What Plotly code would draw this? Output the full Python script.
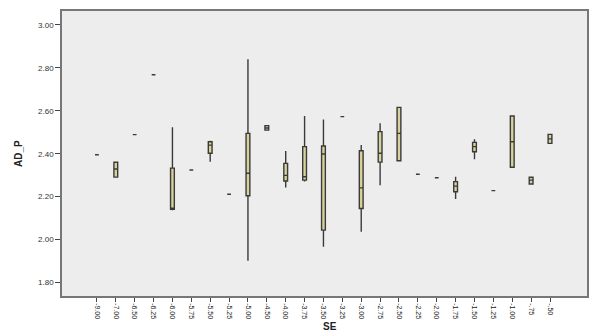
import plotly.graph_objects as go

categories = ["-9.00", "-7.00", "-6.50", "-6.25", "-6.00", "-5.75", "-5.50", "-5.25",
              "-5.00", "-4.50", "-4.00", "-3.75", "-3.50", "-3.25", "-3.00", "-2.75",
              "-2.50", "-2.25", "-2.00", "-1.75", "-1.50", "-1.25", "-1.00", "-.75", "-.50"]
lower_whisker = [2.395, 2.291, 2.489, 2.768, 2.136, 2.324, 2.363, 2.211,
                 1.901, 2.510, 2.243, 2.270, 1.966, 2.573, 2.036, 2.253,
                 2.367, 2.304, 2.288, 2.189, 2.374, 2.228, 2.337, 2.259, 2.448]
q1_values = [2.395, 2.291, 2.489, 2.768, 2.141, 2.324, 2.402, 2.211,
             2.204, 2.510, 2.273, 2.277, 2.044, 2.573, 2.145, 2.361,
             2.367, 2.304, 2.288, 2.223, 2.409, 2.228, 2.337, 2.259, 2.448]
median_values = [2.395, 2.329, 2.489, 2.768, 2.141, 2.324, 2.440, 2.211,
                 2.309, 2.520, 2.299, 2.293, 2.399, 2.573, 2.241, 2.402,
                 2.495, 2.304, 2.288, 2.249, 2.433, 2.228, 2.456, 2.277, 2.469]
q3_values = [2.395, 2.360, 2.489, 2.768, 2.333, 2.324, 2.456, 2.211,
             2.495, 2.531, 2.355, 2.433, 2.436, 2.573, 2.414, 2.503,
             2.616, 2.304, 2.288, 2.270, 2.453, 2.228, 2.576, 2.290, 2.490]
upper_whisker = [2.395, 2.360, 2.489, 2.768, 2.523, 2.324, 2.460, 2.211,
                 2.840, 2.531, 2.413, 2.576, 2.560, 2.573, 2.441, 2.542,
                 2.616, 2.304, 2.288, 2.293, 2.467, 2.228, 2.576, 2.290, 2.490]
y_ticks = [1.80, 2.00, 2.20, 2.40, 2.60, 2.80, 3.00]

fig = go.Figure()
fig.add_trace(go.Box(
    x=categories,
    q1=q1_values,
    median=median_values,
    q3=q3_values,
    lowerfence=lower_whisker,
    upperfence=upper_whisker,
    width=0.2,
    whiskerwidth=0,
    fillcolor="#d9d29b",
    line=dict(color="#3a3a3a", width=1.4),
    boxpoints=False,
    hoverinfo="skip",
    showlegend=False,
))

font_family = "Liberation Sans, Arial, sans-serif"
fig.update_layout(
    width=593, height=333,
    margin=dict(l=62, r=6, t=11, b=37),
    paper_bgcolor="white",
    plot_bgcolor="#ededed",
    font=dict(family=font_family, size=8, color="#333333"),
    xaxis=dict(
        type="category",
        categoryorder="array", categoryarray=categories,
        range=[-1.85, 25.96],
        tickangle=90,
        ticks="outside", ticklen=4, tickcolor="#444444",
        showgrid=False, zeroline=False,
        showline=True, linecolor="#777777", linewidth=1.5, mirror=True,
        tickfont=dict(size=7, color="#222222"),
        automargin=False,
    ),
    yaxis=dict(
        range=[1.737, 3.065],
        tickvals=y_ticks,
        ticktext=[f"{v:.2f}" for v in y_ticks],
        ticks="outside", ticklen=5, tickcolor="#444444",
        showgrid=False, zeroline=False,
        showline=True, linecolor="#777777", linewidth=1.5, mirror=True,
        tickfont=dict(size=8, color="#333333"),
        automargin=False,
    ),
    annotations=[
        dict(text="<b>SE</b>", xref="paper", yref="paper", x=(330 - 62) / 525,
             y=-(327 - 296) / 285, xanchor="center", yanchor="middle",
             showarrow=False, font=dict(size=10, color="#222222")),
        dict(text="<b>AD_P</b>", xref="paper", yref="paper", x=-(62 - 18) / 525,
             y=(296 - 154) / 285, xanchor="center", yanchor="middle", textangle=-90,
             showarrow=False, font=dict(size=10, color="#222222")),
    ],
)

fig.write_html(
    "out.html",
    config={"displayModeBar": False},
    post_script="document.body.style.margin='0';document.body.style.overflow='hidden';",
)
